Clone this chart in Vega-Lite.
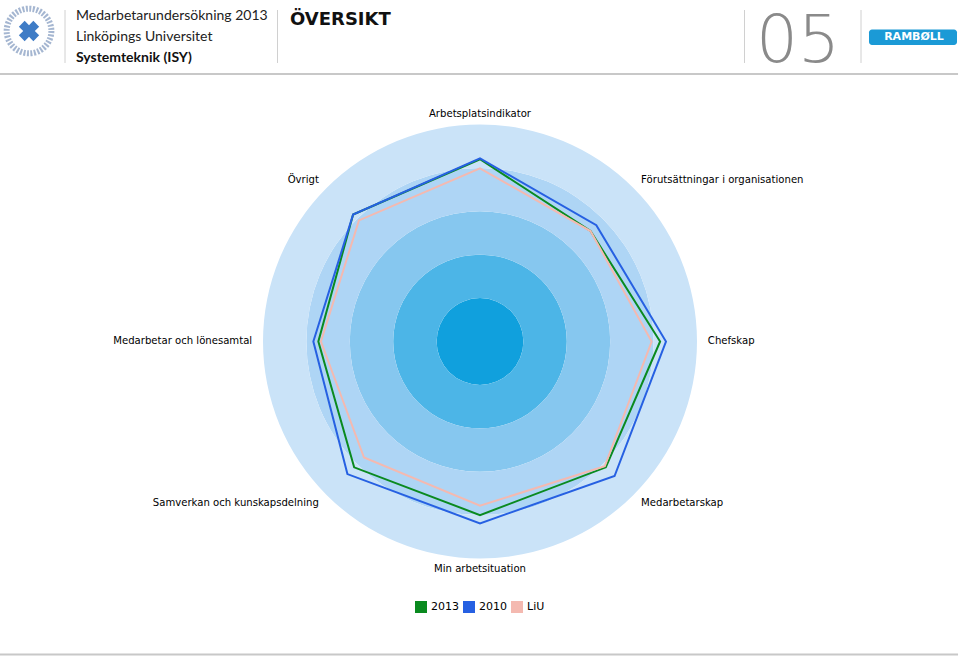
{
  "$schema": "https://vega.github.io/schema/vega-lite/v6.json",
  "width": 960,
  "height": 656,
  "autosize": {"type": "none"},
  "padding": 0,
  "background": "white",
  "config": {"view": {"stroke": null}, "font": "DejaVu Sans"},
  "datasets": {
    "dims": [
      {"dimension": "Arbetsplatsindikator", "idx": 0},
      {"dimension": "Förutsättningar i organisationen", "idx": 1},
      {"dimension": "Chefskap", "idx": 2},
      {"dimension": "Medarbetarskap", "idx": 3},
      {"dimension": "Min arbetsituation", "idx": 4},
      {"dimension": "Samverkan och kunskapsdelning", "idx": 5},
      {"dimension": "Medarbetar och lönesamtal", "idx": 6},
      {"dimension": "Övrigt", "idx": 7}
    ],
    "scores": [
      {"series": "2013", "dimension": "Arbetsplatsindikator", "value": 84},
      {"series": "2013", "dimension": "Förutsättningar i organisationen", "value": 72},
      {"series": "2013", "dimension": "Chefskap", "value": 83},
      {"series": "2013", "dimension": "Medarbetarskap", "value": 82},
      {"series": "2013", "dimension": "Min arbetsituation", "value": 80},
      {"series": "2013", "dimension": "Samverkan och kunskapsdelning", "value": 82},
      {"series": "2013", "dimension": "Medarbetar och lönesamtal", "value": 74.5},
      {"series": "2013", "dimension": "Övrigt", "value": 82.7},
      {"series": "2010", "dimension": "Arbetsplatsindikator", "value": 84.4},
      {"series": "2010", "dimension": "Förutsättningar i organisationen", "value": 75.8},
      {"series": "2010", "dimension": "Chefskap", "value": 85.7},
      {"series": "2010", "dimension": "Medarbetarskap", "value": 87.7},
      {"series": "2010", "dimension": "Min arbetsituation", "value": 83.8},
      {"series": "2010", "dimension": "Samverkan och kunskapsdelning", "value": 86.4},
      {"series": "2010", "dimension": "Medarbetar och lönesamtal", "value": 76.8},
      {"series": "2010", "dimension": "Övrigt", "value": 82.7},
      {"series": "LiU", "dimension": "Arbetsplatsindikator", "value": 79.8},
      {"series": "LiU", "dimension": "Förutsättningar i organisationen", "value": 72},
      {"series": "LiU", "dimension": "Chefskap", "value": 79.1},
      {"series": "LiU", "dimension": "Medarbetarskap", "value": 81.3},
      {"series": "LiU", "dimension": "Min arbetsituation", "value": 75.7},
      {"series": "LiU", "dimension": "Samverkan och kunskapsdelning", "value": 75.6},
      {"series": "LiU", "dimension": "Medarbetar och lönesamtal", "value": 73.3},
      {"series": "LiU", "dimension": "Övrigt", "value": 78.9}
    ],
    "rings": [
      {"level": 1, "inner": 0, "outer": 20},
      {"level": 2, "inner": 20, "outer": 40},
      {"level": 3, "inner": 40, "outer": 60},
      {"level": 4, "inner": 60, "outer": 80},
      {"level": 5, "inner": 80, "outer": 100}
    ]
  },
  "layer": [
    {
      "data": {"name": "rings"},
      "mark": {"type": "arc", "strokeWidth": 0},
      "encoding": {
        "x": {"datum": 0, "type": "quantitative", "scale": {"domain": [-221.2, 221.2], "nice": false, "zero": false}, "axis": null},
        "y": {"datum": 0, "type": "quantitative", "scale": {"domain": [-144.93, 157.37], "nice": false, "zero": false}, "axis": null},
        "radius": {"field": "outer", "type": "quantitative", "scale": {"type": "linear", "domain": [0, 100], "range": [0, 217], "zero": true}},
        "radius2": {"field": "inner"},
        "fill": {"field": "level", "type": "ordinal", "scale": {"domain": [1, 2, 3, 4, 5], "range": ["#10a0dd", "#4cb5e7", "#86c7ef", "#aed5f5", "#cae3f8"]}, "legend": null}
      }
    },
    {
      "data": {"name": "scores"},
      "transform": [
        {"lookup": "dimension", "from": {"data": {"name": "dims"}, "key": "dimension", "fields": ["idx"]}},
        {"calculate": "datum.value * sin(datum.idx * PI / 4)", "as": "px"},
        {"calculate": "datum.value * cos(datum.idx * PI / 4)", "as": "py"}
      ],
      "mark": {"type": "line", "strokeWidth": 2, "interpolate": "linear-closed"},
      "encoding": {
        "x": {"field": "px", "type": "quantitative", "scale": {"domain": [-221.2, 221.2], "nice": false, "zero": false}, "axis": null},
        "y": {"field": "py", "type": "quantitative", "scale": {"domain": [-144.93, 157.37], "nice": false, "zero": false}, "axis": null},
        "order": {"field": "idx"},
        "color": {
          "field": "series", "type": "nominal",
          "scale": {"domain": ["2013", "2010", "LiU"], "range": ["#0a8a1f", "#2660e2", "#f4b9b0"]},
          "legend": {"orient": "none", "legendX": 415, "legendY": 601, "direction": "horizontal", "title": null, "symbolType": "square", "symbolSize": 36, "symbolStrokeWidth": 6, "labelFont": "DejaVu Sans", "labelFontSize": 11, "labelColor": "#000000", "labelOffset": 4, "columnPadding": -5}
        }
      }
    },
    {
      "data": {"name": "dims"},
      "transform": [
        {"filter": "datum.idx == 0 || datum.idx == 4"},
        {"calculate": "105 * sin(datum.idx * PI / 4)", "as": "lx"},
        {"calculate": "105 * cos(datum.idx * PI / 4)", "as": "ly"}
      ],
      "mark": {"type": "text", "align": "center", "baseline": "middle", "font": "DejaVu Sans", "fontSize": 10.1, "color": "#000000"},
      "encoding": {
        "x": {"field": "lx", "type": "quantitative", "scale": {"domain": [-221.2, 221.2], "nice": false, "zero": false}, "axis": null},
        "y": {"field": "ly", "type": "quantitative", "scale": {"domain": [-144.93, 157.37], "nice": false, "zero": false}, "axis": null},
        "text": {"field": "dimension"}
      }
    },
    {
      "data": {"name": "dims"},
      "transform": [
        {"filter": "datum.idx >= 1 && datum.idx <= 3"},
        {"calculate": "105 * sin(datum.idx * PI / 4)", "as": "lx"},
        {"calculate": "105 * cos(datum.idx * PI / 4)", "as": "ly"}
      ],
      "mark": {"type": "text", "align": "left", "baseline": "middle", "font": "DejaVu Sans", "fontSize": 10.1, "color": "#000000"},
      "encoding": {
        "x": {"field": "lx", "type": "quantitative", "scale": {"domain": [-221.2, 221.2], "nice": false, "zero": false}, "axis": null},
        "y": {"field": "ly", "type": "quantitative", "scale": {"domain": [-144.93, 157.37], "nice": false, "zero": false}, "axis": null},
        "text": {"field": "dimension"}
      }
    },
    {
      "data": {"name": "dims"},
      "transform": [
        {"filter": "datum.idx >= 5"},
        {"calculate": "105 * sin(datum.idx * PI / 4)", "as": "lx"},
        {"calculate": "105 * cos(datum.idx * PI / 4)", "as": "ly"}
      ],
      "mark": {"type": "text", "align": "right", "baseline": "middle", "font": "DejaVu Sans", "fontSize": 10.1, "color": "#000000"},
      "encoding": {
        "x": {"field": "lx", "type": "quantitative", "scale": {"domain": [-221.2, 221.2], "nice": false, "zero": false}, "axis": null},
        "y": {"field": "ly", "type": "quantitative", "scale": {"domain": [-144.93, 157.37], "nice": false, "zero": false}, "axis": null},
        "text": {"field": "dimension"}
      }
    },
    {
      "data": {"values": [{"x": -221.2, "x2": 220.3, "y": 123.27}, {"x": -221.2, "x2": 220.3, "y": -144.24}]},
      "mark": {"type": "rule", "color": "#c8c8c8", "strokeWidth": 2},
      "encoding": {
        "x": {"field": "x", "type": "quantitative", "scale": {"domain": [-221.2, 221.2], "nice": false, "zero": false}, "axis": null},
        "x2": {"field": "x2"},
        "y": {"field": "y", "type": "quantitative", "scale": {"domain": [-144.93, 157.37], "nice": false, "zero": false}, "axis": null}
      }
    },
    {
      "data": {"values": [{"x": -191.24}, {"x": -93.32}, {"x": 121.89}, {"x": 175.58}]},
      "mark": {"type": "rule", "color": "#d0d0d0", "strokeWidth": 1},
      "encoding": {
        "x": {"field": "x", "type": "quantitative", "scale": {"domain": [-221.2, 221.2], "nice": false, "zero": false}, "axis": null},
        "y": {"datum": 152.76, "type": "quantitative", "scale": {"domain": [-144.93, 157.37], "nice": false, "zero": false}, "axis": null},
        "y2": {"datum": 128.34}
      }
    },
    {
      "data": {"values": [{}]},
      "mark": {"type": "text", "text": "Medarbetarundersökning 2013", "align": "left", "baseline": "alphabetic", "font": "Lato", "fontSize": 14, "color": "#222222"},
      "encoding": {
        "x": {"datum": -186.18, "type": "quantitative", "scale": {"domain": [-221.2, 221.2], "nice": false, "zero": false}, "axis": null},
        "y": {"datum": 148.16, "type": "quantitative", "scale": {"domain": [-144.93, 157.37], "nice": false, "zero": false}, "axis": null}
      }
    },
    {
      "data": {"values": [{}]},
      "mark": {"type": "text", "text": "Linköpings Universitet", "align": "left", "baseline": "alphabetic", "font": "Lato", "fontSize": 14, "color": "#222222"},
      "encoding": {
        "x": {"datum": -186.18, "type": "quantitative", "scale": {"domain": [-221.2, 221.2], "nice": false, "zero": false}, "axis": null},
        "y": {"datum": 138.48, "type": "quantitative", "scale": {"domain": [-144.93, 157.37], "nice": false, "zero": false}, "axis": null}
      }
    },
    {
      "data": {"values": [{}]},
      "mark": {"type": "text", "text": "Systemteknik (ISY)", "align": "left", "baseline": "alphabetic", "font": "Lato", "fontSize": 14, "fontWeight": "bold", "color": "#111111"},
      "encoding": {
        "x": {"datum": -186.18, "type": "quantitative", "scale": {"domain": [-221.2, 221.2], "nice": false, "zero": false}, "axis": null},
        "y": {"datum": 128.8, "type": "quantitative", "scale": {"domain": [-144.93, 157.37], "nice": false, "zero": false}, "axis": null}
      }
    },
    {
      "data": {"values": [{}]},
      "mark": {"type": "text", "text": "ÖVERSIKT", "align": "left", "baseline": "alphabetic", "font": "DejaVu Sans", "fontSize": 18, "fontWeight": "bold", "color": "#111111"},
      "encoding": {
        "x": {"datum": -87.56, "type": "quantitative", "scale": {"domain": [-221.2, 221.2], "nice": false, "zero": false}, "axis": null},
        "y": {"datum": 145.85, "type": "quantitative", "scale": {"domain": [-144.93, 157.37], "nice": false, "zero": false}, "axis": null}
      }
    },
    {
      "data": {"values": [{}]},
      "mark": {"type": "text", "text": "05", "align": "left", "baseline": "alphabetic", "font": "DejaVu Sans", "fontSize": 66, "fontWeight": 200, "color": "#8a8a8a"},
      "encoding": {
        "x": {"datum": 127.19, "type": "quantitative", "scale": {"domain": [-221.2, 221.2], "nice": false, "zero": false}, "axis": null},
        "y": {"datum": 128.8, "type": "quantitative", "scale": {"domain": [-144.93, 157.37], "nice": false, "zero": false}, "axis": null}
      }
    },
    {
      "data": {"values": [{}]},
      "mark": {"type": "rect", "color": "#1b9ad6", "cornerRadius": 3},
      "encoding": {
        "x": {"datum": 179.26, "type": "quantitative", "scale": {"domain": [-221.2, 221.2], "nice": false, "zero": false}, "axis": null},
        "x2": {"datum": 219.82},
        "y": {"datum": 143.78, "type": "quantitative", "scale": {"domain": [-144.93, 157.37], "nice": false, "zero": false}, "axis": null},
        "y2": {"datum": 136.64}
      }
    },
    {
      "data": {"values": [{}]},
      "mark": {"type": "text", "text": "RAMBØLL", "align": "center", "baseline": "middle", "font": "DejaVu Sans", "fontSize": 11, "fontWeight": "bold", "color": "#ffffff"},
      "encoding": {
        "x": {"datum": 200, "type": "quantitative", "scale": {"domain": [-221.2, 221.2], "nice": false, "zero": false}, "axis": null},
        "y": {"datum": 140.09, "type": "quantitative", "scale": {"domain": [-144.93, 157.37], "nice": false, "zero": false}, "axis": null}
      }
    },
    {
      "data": {"values": [{"r": "ring"}]},
      "mark": {"type": "point", "shape": "circle", "size": 2000, "filled": false, "stroke": "#8fa5c6", "strokeWidth": 6, "strokeDash": [2, 1.5], "opacity": 0.8},
      "encoding": {
        "x": {"datum": -207.83, "type": "quantitative", "scale": {"domain": [-221.2, 221.2], "nice": false, "zero": false}, "axis": null},
        "y": {"datum": 143.09, "type": "quantitative", "scale": {"domain": [-144.93, 157.37], "nice": false, "zero": false}, "axis": null}
      }
    },
    {
      "data": {"values": [{"r": "emblem"}]},
      "mark": {"type": "point", "shape": "cross", "size": 420, "angle": 45, "filled": true, "color": "#3f7cc6", "opacity": 1},
      "encoding": {
        "x": {"datum": -207.83, "type": "quantitative", "scale": {"domain": [-221.2, 221.2], "nice": false, "zero": false}, "axis": null},
        "y": {"datum": 143.09, "type": "quantitative", "scale": {"domain": [-144.93, 157.37], "nice": false, "zero": false}, "axis": null}
      }
    }
  ]
}
